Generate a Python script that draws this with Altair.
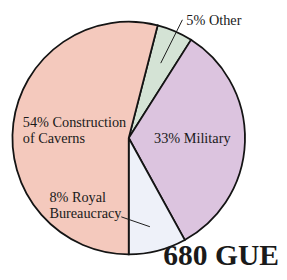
import math
import altair as alt
import pandas as pd

# data
categories = ["Other", "Military", "Royal Bureaucracy", "Construction of Caverns"]
percents = [5, 33, 8, 54]
colors = ["#d4e3d5", "#dcc4df", "#eef1f9", "#f4c9bd"]
label_lines = {
    "Other": ["5% Other"],
    "Military": ["33% Military"],
    "Royal": ["8% Royal", "Bureaucracy"],
    "Caverns": ["54% Construction", "of Caverns"],
}
total_label = "680 GUE"

df = pd.DataFrame({"category": categories, "pct": percents, "idx": list(range(len(categories)))})

start = math.radians(14.4)
FONT = "Liberation Serif"
FS = 14.5

pie = alt.Chart(df).mark_arc(radius=118, stroke="#141414", strokeWidth=1.8).encode(
    theta=alt.Theta("pct:Q", stack=True, scale=alt.Scale(range=[start, start + 2 * math.pi])),
    color=alt.Color("category:N", scale=alt.Scale(domain=categories, range=colors), legend=None),
    order=alt.Order("idx:Q"),
)

def text_layer(lines, x, y, align="left", size=FS, weight="normal"):
    return alt.Chart(pd.DataFrame({"t": [lines]})).mark_text(
        font=FONT, fontSize=size, fontWeight=weight, align=align, baseline="alphabetic",
        color="#1a1a1a", lineHeight=16
    ).encode(text="t", x=alt.value(x), y=alt.value(y))

def leader(x1, y1, x2, y2):
    return alt.Chart(pd.DataFrame({"a": [0]})).mark_rule(color="#1a1a1a", strokeWidth=1).encode(
        x=alt.value(x1), y=alt.value(y1), x2=alt.value(x2), y2=alt.value(y2)
    )

layers = [
    pie,
    leader(177, 10, 155, 54),
    leader(115, 210, 144, 220),
    text_layer(label_lines["Other"], 181, 15),
    text_layer(label_lines["Military"], 187, 135, align="center"),
    text_layer(label_lines["Royal"], 42, 195),
    text_layer(label_lines["Caverns"], 15, 119),
    text_layer([total_label], 275, 259, align="right", size=30, weight="bold"),
]

chart = alt.layer(*layers).properties(
    width=245, height=260, padding=0, background="white"
).configure_view(stroke=None)

chart.save("out.html", embed_options={"renderer": "svg", "actions": False})
